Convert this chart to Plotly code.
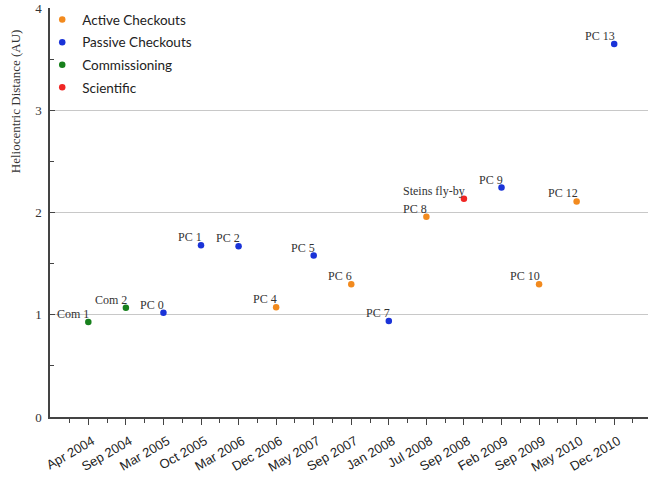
import plotly.graph_objects as go

categories = ["Apr 2004", "Sep 2004", "Mar 2005", "Oct 2005", "Mar 2006", "Dec 2006",
              "May 2007", "Sep 2007", "Jan 2008", "Jul 2008", "Sep 2008", "Feb 2009",
              "Sep 2009", "May 2010", "Dec 2010"]

active_dates = ["Dec 2006", "Sep 2007", "Jul 2008", "Sep 2009", "May 2010"]
active_dist = [1.075, 1.30, 1.96, 1.30, 2.11]
active_names = ["PC 4", "PC 6", "PC 8", "PC 10", "PC 12"]

passive_dates = ["Mar 2005", "Oct 2005", "Mar 2006", "May 2007", "Jan 2008", "Feb 2009", "Dec 2010"]
passive_dist = [1.02, 1.68, 1.67, 1.58, 0.94, 2.245, 3.65]
passive_names = ["PC 0", "PC 1", "PC 2", "PC 5", "PC 7", "PC 9", "PC 13"]

comm_dates = ["Apr 2004", "Sep 2004"]
comm_dist = [0.93, 1.07]
comm_names = ["Com 1", "Com 2"]

sci_dates = ["Sep 2008"]
sci_dist = [2.137]
sci_names = ["Steins fly-by"]

y_title = "Heliocentric Distance (AU)"

series = [
    ("Active Checkouts", active_dates, active_dist, active_names, "#f28a1e"),
    ("Passive Checkouts", passive_dates, passive_dist, passive_names, "#1a33d8"),
    ("Commissioning", comm_dates, comm_dist, comm_names, "#17801c"),
    ("Scientific", sci_dates, sci_dist, sci_names, "#f02624"),
]

fig = go.Figure()
for name, dates, dist, labels, color in series:
    xs = [categories.index(d) for d in dates]
    fig.add_trace(go.Scatter(
        x=xs, y=dist, mode="markers", name=name, legendgroup=name,
        marker=dict(color=color, size=6.5),
    ))
    for xv, yv, lab in zip(xs, dist, labels):
        fig.add_annotation(
            x=xv, y=yv, text=lab, showarrow=False,
            xanchor="right", yanchor="bottom", xshift=3, yshift=-1,
            font=dict(family="Liberation Serif", size=12, color="#333333"),
        )

fig.add_annotation(
    xref="paper", yref="paper", x=0, y=0.772, xshift=-35,
    text=y_title, textangle=-90, showarrow=False,
    xanchor="center", yanchor="middle",
    font=dict(family="Liberation Serif", size=13, color="#333333"),
)

fig.update_layout(
    width=648, height=478,
    margin=dict(l=50, r=0, t=8, b=61),
    paper_bgcolor="white", plot_bgcolor="white",
    showlegend=True,
    legend=dict(x=-0.013, y=1.009, xanchor="left", yanchor="top",
                font=dict(family="Lato", size=13.5, color="#222222"),
                bgcolor="rgba(0,0,0,0)", itemwidth=30, tracegroupgap=2),
    xaxis=dict(
        range=[-1.02, 14.9], automargin=False,
        tickmode="array", tickvals=list(range(len(categories))), ticktext=categories,
        tickangle=-30, ticks="outside", ticklen=6, tickcolor="#444444",
        ticklabelstandoff=4, ticklabelshift=4,
        minor=dict(tick0=0.5, dtick=1, ticks="outside", ticklen=4, tickcolor="#444444"),
        showline=True, linecolor="#444444", linewidth=1.5,
        showgrid=False, zeroline=False,
        tickfont=dict(family="Liberation Sans", size=13, color="#222222"),
    ),
    yaxis=dict(
        range=[0, 4.003], dtick=1, tick0=0, automargin=False,
        ticks="inside", ticklen=5, tickcolor="#444444",
        ticklabelstandoff=4,
        minor=dict(dtick=0.5, ticks="inside", ticklen=4, tickcolor="#444444", showgrid=False),
        showline=True, linecolor="#444444", linewidth=1.5,
        showgrid=True, gridcolor="#c8c8c8", gridwidth=1, zeroline=False,
        tickfont=dict(family="Liberation Serif", size=13, color="#333333"),
    ),
)

fig.write_html("out.html", config={"displayModeBar": False},
               post_script="document.body.style.margin='0';")
